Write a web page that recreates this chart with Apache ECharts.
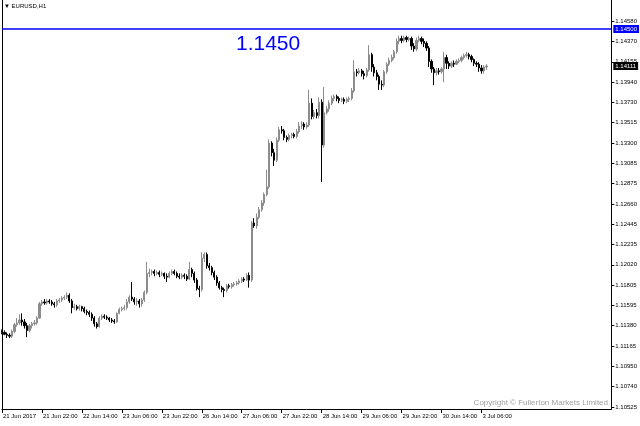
<!DOCTYPE html>
<html><head><meta charset="utf-8">
<script src="https://cdn.jsdelivr.net/npm/echarts@6/dist/echarts.min.js"></script>
<style>html,body{margin:0;padding:0;background:#fff}#c{width:640px;height:426px}</style>
</head><body><div id="c"></div>
<script>
const opens=[
1.1133,1.1131,1.1129,1.1128,1.1127,1.1132,1.1139,1.1141,1.1144,1.1142,
1.1138,1.1133,1.1138,1.1140,1.1141,1.1146,1.1161,1.1163,1.1162,1.1164,
1.1163,1.1161,1.1160,1.1164,1.1165,1.1167,1.1168,1.1170,1.1164,1.1157,
1.1158,1.1156,1.1158,1.1156,1.1153,1.1152,1.1150,1.1146,1.1140,1.1137,
1.1146,1.1148,1.1147,1.1146,1.1144,1.1143,1.1142,1.1151,1.1155,1.1156,
1.1157,1.1163,1.1168,1.1166,1.1163,1.1164,1.1161,1.1165,1.1173,1.1193,
1.1194,1.1195,1.1193,1.1194,1.1192,1.1193,1.1190,1.1189,1.1193,1.1195,
1.1193,1.1190,1.1189,1.1191,1.1190,1.1187,1.1197,1.1193,1.1186,1.1177,
1.1176,1.1209,1.1213,1.1201,1.1199,1.1194,1.1189,1.1183,1.1178,1.1176,
1.1175,1.1180,1.1179,1.1181,1.1182,1.1183,1.1185,1.1187,1.1186,1.1191,
1.1186,1.1246,1.1243,1.1252,1.1260,1.1267,1.1276,1.1284,1.1330,1.1320,
1.1312,1.1333,1.1344,1.1343,1.1336,1.1334,1.1338,1.1339,1.1337,1.1342,
1.1348,1.1350,1.1347,1.1349,1.1372,1.1358,1.1362,1.1359,1.1373,1.1328,
1.1362,1.1366,1.1372,1.1377,1.1379,1.1377,1.1375,1.1376,1.1374,1.1376,
1.1377,1.1385,1.1405,1.1404,1.1406,1.1403,1.1401,1.1407,1.1423,1.1410,
1.1404,1.1400,1.1392,1.1391,1.1405,1.1413,1.1417,1.1420,1.1426,1.1437,
1.1440,1.1438,1.1441,1.1439,1.1440,1.1432,1.1429,1.1438,1.1440,1.1437,
1.1435,1.1430,1.1416,1.1408,1.1404,1.1406,1.1405,1.1408,1.1420,1.1414,
1.1411,1.1414,1.1413,1.1416,1.1417,1.1420,1.1422,1.1423,1.1421,1.1418,
1.1414,1.1413,1.1409,1.1406,1.1410];
const highs=[
1.1134,1.1133,1.1131,1.1130,1.1134,1.1141,1.1146,1.1150,1.1151,1.1145,
1.1141,1.1140,1.1142,1.1144,1.1148,1.1163,1.1165,1.1166,1.1166,1.1166,
1.1165,1.1163,1.1166,1.1167,1.1169,1.1170,1.1173,1.1172,1.1166,1.1161,
1.1160,1.1160,1.1159,1.1158,1.1155,1.1154,1.1152,1.1148,1.1142,1.1148,
1.1150,1.1150,1.1149,1.1147,1.1146,1.1145,1.1152,1.1157,1.1158,1.1160,
1.1166,1.1170,1.1184,1.1168,1.1167,1.1166,1.1167,1.1175,1.1205,1.1198,
1.1197,1.1197,1.1196,1.1196,1.1195,1.1194,1.1193,1.1195,1.1197,1.1197,
1.1195,1.1193,1.1193,1.1193,1.1192,1.1205,1.1199,1.1195,1.1188,1.1180,
1.1215,1.1215,1.1215,1.1204,1.1201,1.1196,1.1191,1.1185,1.1180,1.1178,
1.1182,1.1182,1.1183,1.1184,1.1185,1.1187,1.1189,1.1189,1.1193,1.1194,
1.1248,1.1251,1.1256,1.1263,1.1270,1.1278,1.1302,1.1334,1.1332,1.1324,
1.1336,1.1347,1.1348,1.1345,1.1338,1.1340,1.1341,1.1341,1.1345,1.1352,
1.1353,1.1352,1.1352,1.1386,1.1377,1.1365,1.1366,1.1378,1.1376,1.1389,
1.1369,1.1375,1.1380,1.1381,1.1381,1.1379,1.1378,1.1378,1.1378,1.1379,
1.1388,1.1417,1.1408,1.1409,1.1408,1.1406,1.1409,1.1433,1.1425,1.1413,
1.1407,1.1402,1.1396,1.1407,1.1415,1.1420,1.1423,1.1428,1.1440,1.1443,
1.1443,1.1443,1.1443,1.1442,1.1442,1.1435,1.1441,1.1443,1.1442,1.1440,
1.1437,1.1432,1.1418,1.1410,1.1409,1.1409,1.1410,1.1426,1.1423,1.1416,
1.1416,1.1417,1.1418,1.1419,1.1422,1.1424,1.1426,1.1425,1.1423,1.1419,
1.1416,1.1415,1.1412,1.1412,1.1413];
const lows=[
1.1129,1.1128,1.1125,1.1125,1.1125,1.1130,1.1137,1.1139,1.1138,1.1135,
1.1126,1.1131,1.1135,1.1138,1.1139,1.1145,1.1159,1.1160,1.1160,1.1161,
1.1159,1.1157,1.1158,1.1162,1.1163,1.1165,1.1166,1.1162,1.1151,1.1155,
1.1154,1.1154,1.1153,1.1151,1.1149,1.1147,1.1143,1.1137,1.1135,1.1136,
1.1144,1.1145,1.1144,1.1142,1.1141,1.1140,1.1141,1.1150,1.1153,1.1154,
1.1155,1.1161,1.1164,1.1160,1.1159,1.1157,1.1158,1.1163,1.1171,1.1189,
1.1191,1.1190,1.1191,1.1189,1.1190,1.1187,1.1184,1.1188,1.1191,1.1191,
1.1188,1.1187,1.1187,1.1187,1.1185,1.1186,1.1189,1.1183,1.1175,1.1168,
1.1174,1.1205,1.1198,1.1196,1.1191,1.1186,1.1180,1.1176,1.1173,1.1168,
1.1173,1.1177,1.1177,1.1179,1.1180,1.1181,1.1183,1.1184,1.1185,1.1178,
1.1184,1.1241,1.1240,1.1250,1.1258,1.1264,1.1274,1.1282,1.1316,1.1306,
1.1310,1.1331,1.1340,1.1333,1.1331,1.1332,1.1335,1.1335,1.1335,1.1340,
1.1345,1.1344,1.1345,1.1347,1.1355,1.1355,1.1356,1.1356,1.1289,1.1325,
1.1360,1.1363,1.1370,1.1374,1.1374,1.1372,1.1373,1.1371,1.1372,1.1373,
1.1375,1.1383,1.1400,1.1402,1.1400,1.1397,1.1399,1.1405,1.1405,1.1400,
1.1396,1.1386,1.1386,1.1389,1.1403,1.1411,1.1415,1.1418,1.1424,1.1434,
1.1435,1.1436,1.1436,1.1437,1.1428,1.1426,1.1427,1.1436,1.1434,1.1431,
1.1427,1.1410,1.1404,1.1391,1.1401,1.1402,1.1403,1.1394,1.1408,1.1408,
1.1409,1.1410,1.1412,1.1414,1.1415,1.1418,1.1420,1.1418,1.1415,1.1411,
1.1410,1.1405,1.1403,1.1403,1.1407];
const closes=[
1.1131,1.1129,1.1128,1.1127,1.1132,1.1139,1.1141,1.1144,1.1142,1.1138,
1.1133,1.1138,1.1140,1.1141,1.1146,1.1161,1.1163,1.1162,1.1164,1.1163,
1.1161,1.1160,1.1164,1.1165,1.1167,1.1168,1.1170,1.1164,1.1157,1.1158,
1.1156,1.1158,1.1156,1.1153,1.1152,1.1150,1.1146,1.1140,1.1137,1.1146,
1.1148,1.1147,1.1146,1.1144,1.1143,1.1142,1.1151,1.1155,1.1156,1.1157,
1.1163,1.1168,1.1166,1.1163,1.1164,1.1161,1.1165,1.1173,1.1193,1.1194,
1.1195,1.1193,1.1194,1.1192,1.1193,1.1190,1.1189,1.1193,1.1195,1.1193,
1.1190,1.1189,1.1191,1.1190,1.1187,1.1197,1.1193,1.1186,1.1177,1.1176,
1.1209,1.1213,1.1201,1.1199,1.1194,1.1189,1.1183,1.1178,1.1176,1.1175,
1.1180,1.1179,1.1181,1.1182,1.1183,1.1185,1.1187,1.1186,1.1191,1.1186,
1.1246,1.1243,1.1252,1.1260,1.1267,1.1276,1.1284,1.1330,1.1320,1.1312,
1.1333,1.1344,1.1343,1.1336,1.1334,1.1338,1.1339,1.1337,1.1342,1.1348,
1.1350,1.1347,1.1349,1.1372,1.1358,1.1362,1.1359,1.1373,1.1328,1.1362,
1.1366,1.1372,1.1377,1.1379,1.1377,1.1375,1.1376,1.1374,1.1376,1.1377,
1.1385,1.1405,1.1404,1.1406,1.1403,1.1401,1.1407,1.1423,1.1410,1.1404,
1.1400,1.1392,1.1391,1.1405,1.1413,1.1417,1.1420,1.1426,1.1437,1.1440,
1.1438,1.1441,1.1439,1.1440,1.1432,1.1429,1.1438,1.1440,1.1437,1.1435,
1.1430,1.1416,1.1408,1.1404,1.1406,1.1405,1.1408,1.1420,1.1414,1.1411,
1.1414,1.1413,1.1416,1.1417,1.1420,1.1422,1.1423,1.1421,1.1418,1.1414,
1.1413,1.1409,1.1406,1.1410,1.14111];
const timeLabels=['21 Jun 2017','21 Jun 22:00','22 Jun 14:00','23 Jun 06:00','23 Jun 22:00','26 Jun 14:00','27 Jun 06:00','27 Jun 22:00','28 Jun 14:00','29 Jun 06:00','29 Jun 22:00','30 Jun 14:00','3 Jul 06:00'];
const labelStep=16;
const totalSlots=245;
const priceTicks=[1.14580,1.14370,1.14155,1.13940,1.13730,1.13515,1.13300,1.13085,1.12875,1.12660,1.12445,1.12235,1.12020,1.11805,1.11595,1.11380,1.11165,1.10950,1.10740,1.10525];
const levelPrice=1.14500;
const levelText='1.1450';
const lastPrice=1.14111;
const symbolTitle='EURUSD,H1';
const copyright='Copyright \u00A9 Fullerton Markets Limited';
const yMin=1.10504, yMax=1.14805;

const cats=Array.from({length:totalSlots},(_,i)=>String(i));
const candles=opens.map((o,i)=>[o,closes[i],lows[i],highs[i]]);
const FONT='"Liberation Sans", Arial, sans-serif';
const chart=echarts.init(document.getElementById('c'),null,{renderer:'canvas'});
const isLabelIdx=i=>i%labelStep===0 && (i/labelStep)<timeLabels.length;
const lastSlot=totalSlots-1;
function tagLine(price,lineColor,lineWidth,lineOpacity,bg){
  return {type:'line',yAxisIndex:0,silent:true,symbol:'none',z:5,
    data:[[0,price],[lastSlot,price]],
    lineStyle:{color:lineColor,width:lineWidth,opacity:lineOpacity},
    endLabel:{show:true,formatter:price.toFixed(5),backgroundColor:bg,color:'#fff',fontSize:6,fontFamily:FONT,padding:[1,2,1,2],distance:2,opacity:1}};
}
chart.setOption({
  animation:false,
  backgroundColor:'#ffffff',
  grid:{left:2,right:27,top:0,bottom:17,containLabel:false},
  xAxis:{type:'category',data:cats,boundaryGap:false,
    axisLine:{show:true,onZero:false,lineStyle:{color:'#000',width:1}},
    axisTick:{show:true,length:4,interval:(i)=>isLabelIdx(i),lineStyle:{color:'#000'}},
    axisLabel:{show:true,interval:(i)=>isLabelIdx(i),formatter:(v,i)=>isLabelIdx(i)?timeLabels[i/labelStep]:'',
      align:'left',margin:4,color:'#000',fontSize:6,fontFamily:FONT,padding:[0,0,0,1]},
    splitLine:{show:false}},
  yAxis:[{type:'value',position:'right',min:yMin,max:yMax,scale:true,
    axisLine:{show:true,lineStyle:{color:'#000',width:1}},
    axisTick:{show:true,length:3,customValues:priceTicks,lineStyle:{color:'#000'}},
    axisLabel:{show:true,customValues:priceTicks,formatter:v=>Number(v).toFixed(5),margin:4,color:'#000',fontSize:6,fontFamily:FONT},
    splitLine:{show:false}},
   {type:'value',position:'left',min:yMin,max:yMax,scale:true,
    axisLine:{show:true,lineStyle:{color:'#000',width:1}},
    axisTick:{show:false},axisLabel:{show:false},splitLine:{show:false}}],
  series:[
   {type:'candlestick',data:candles,barWidth:1.6,yAxisIndex:0,z:3,
    itemStyle:{color:'#8c8c8c',borderColor:'#8c8c8c',color0:'#000000',borderColor0:'#000000',borderWidth:1}},
   tagLine(levelPrice,'#0000ff',1.5,1,'#0000ff'),
   tagLine(lastPrice,'#ffffff',0,0,'#000000')
  ],
  graphic:[
    {type:'text',left:4,top:3,style:{text:'\u25BC '+symbolTitle,fill:'#000',font:'6px '+FONT}},
    {type:'text',left:236,top:34,style:{text:levelText,fill:'#0000ff',font:'21px '+FONT}},
    {type:'text',right:32,top:399,style:{text:copyright,fill:'#a0a0a0',font:'8px '+FONT}}
  ]
});
</script></body></html>
